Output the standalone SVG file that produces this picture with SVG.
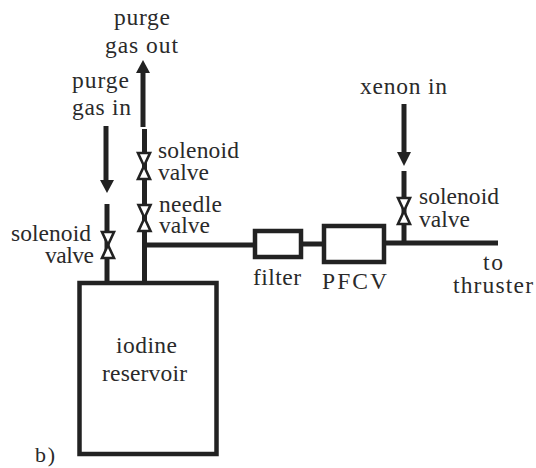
<svg xmlns="http://www.w3.org/2000/svg" width="536" height="468" viewBox="0 0 536 468">
<defs>
<style>
text{font-family:"Liberation Serif","Times New Roman",serif;font-size:23.5px;fill:#2a2a2a}
.pipe{fill:none;stroke:#222;stroke-width:5}
.box{fill:#fff;stroke:#222;stroke-width:4.5}
.head{fill:#222}
.tri{fill:#fff;stroke:#222;stroke-width:2.6;stroke-linejoin:miter}
</style>
<g id="valve-shape"><path class="tri" d="M-6 -13H6L0 0Z"/><path class="tri" d="M-6 13H6L0 0Z"/></g>
</defs>
<rect width="536" height="468" fill="#fff"/>
<g id="connectors">
<path class="pipe" d="M143 72V127"/><path class="pipe" d="M144.500 129V283"/>
<path class="head" d="M143 60L150 73H136Z"/>
<path class="pipe" d="M106 126V181"/><path class="head" d="M107 193L114 180H100Z"/>
<path class="pipe" d="M107 204V283"/>
<path class="pipe" d="M144 245H256"/>
<path class="pipe" d="M301 244H324"/>
<path class="pipe" d="M384 243H498"/>
<path class="pipe" d="M404 104V154"/><path class="head" d="M404 166L411 152H397Z"/>
<path class="pipe" d="M404 171V243"/>
</g>
<g id="valve-left"><use href="#valve-shape" x="108" y="245"/><text x="11" y="241" textLength="80" lengthAdjust="spacing">solenoid</text><text x="45" y="263" textLength="49" lengthAdjust="spacing">valve</text></g>
<g id="valve-solenoid-out"><use href="#valve-shape" x="144" y="166"/><text x="158" y="158" textLength="81" lengthAdjust="spacing">solenoid</text><text x="158" y="180" textLength="51" lengthAdjust="spacing">valve</text></g>
<g id="valve-needle"><use href="#valve-shape" x="144.500" y="218"/><text x="159" y="212" textLength="63" lengthAdjust="spacing">needle</text><text x="159" y="233" textLength="51" lengthAdjust="spacing">valve</text></g>
<g id="valve-xenon"><use href="#valve-shape" x="404" y="211"/><text x="419" y="204" textLength="80" lengthAdjust="spacing">solenoid</text><text x="419" y="227" textLength="51" lengthAdjust="spacing">valve</text></g>
<g id="filter"><rect class="box" x="255" y="231" width="46" height="26"/><text x="253" y="285" textLength="48" lengthAdjust="spacing">filter</text></g>
<g id="pfcv"><rect class="box" x="324" y="226" width="60" height="36"/><text x="322" y="289" textLength="65" lengthAdjust="spacing">PFCV</text></g>
<g id="reservoir"><rect class="box" x="79.500" y="283" width="137" height="171"/><text x="116" y="353" textLength="61" lengthAdjust="spacing">iodine</text><text x="102" y="381" textLength="85" lengthAdjust="spacing">reservoir</text></g>
<g id="labels">
<text x="114" y="25" textLength="56" lengthAdjust="spacing">purge</text>
<text x="105" y="53" textLength="73" lengthAdjust="spacing">gas out</text>
<text x="72" y="88" textLength="57" lengthAdjust="spacing">purge</text>
<text x="72" y="115" textLength="59" lengthAdjust="spacing">gas in</text>
<text x="360" y="94" textLength="87" lengthAdjust="spacing">xenon in</text>
<text x="483" y="270" textLength="20" lengthAdjust="spacing">to</text>
<text x="453" y="293" textLength="80" lengthAdjust="spacing">thruster</text>
<text x="35" y="462" textLength="20" lengthAdjust="spacing" style="font-size:22px">b)</text>
</g>
</svg>
